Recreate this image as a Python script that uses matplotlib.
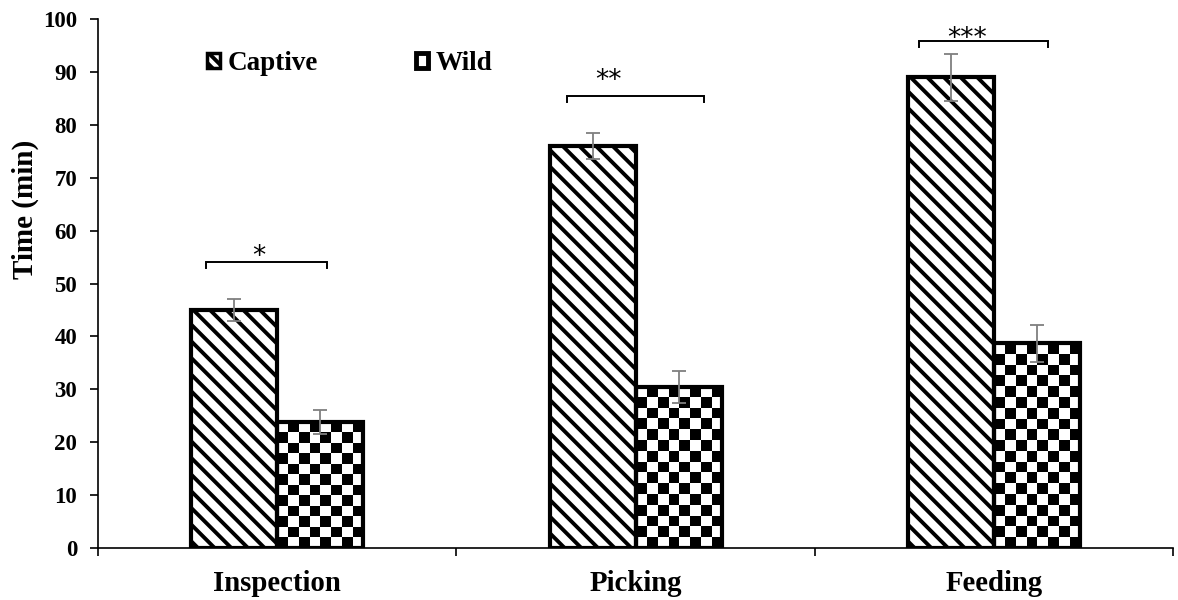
"""
Time spent on inspection, picking and feeding: captive vs wild birds.
"""

import numpy as np
import matplotlib.pyplot as plt
from matplotlib.patches import Patch

categories = ["Inspection", "Picking", "Feeding"]
captive = [45.0, 76.0, 89.0]
wild = [23.8, 30.5, 38.7]
captive_err = [2.1, 2.4, 4.4]
wild_err = [2.3, 3.0, 3.5]
signif = ["*", "**", "***"]
bracket_y = [54.0, 85.4, 95.8]
star_y = [56.7, 90.0, 97.9]
# bracket span as offsets from the category centre
bracket_lo = [-0.20, -0.19, -0.21]
bracket_hi = [0.14, 0.19, 0.15]
star_dx = [-0.02, -0.075, -0.045]

plt.rcParams['font.family'] = ['Liberation Serif', 'DejaVu Serif']
plt.rcParams['font.weight'] = 'bold'
plt.rcParams['hatch.linewidth'] = 2.8

fig = plt.figure(figsize=(11.78, 6), dpi=100)
ax = fig.add_axes([0.0832, 0.0867, 0.9126, 0.8813])

x = np.arange(len(categories))
w = 0.24

bars_c = ax.bar(x - w / 2, captive, w, color="white", edgecolor="black",
                linewidth=3, hatch="\\\\", zorder=2)
bars_w = ax.bar(x + w / 2, wild, w, color="none", edgecolor="black",
                linewidth=3, zorder=2)

ax.set_xlim(-0.5, 2.5)
ax.set_ylim(0, 100)

# checkerboard fill for the wild bars, clipped to each bar
fig.canvas.draw()
for b in bars_w:
    x0, y0 = b.get_x(), b.get_y()
    x1, y1 = x0 + b.get_width(), y0 + b.get_height()
    p0 = ax.transData.transform((x0, y0))
    p1 = ax.transData.transform((x1, y1))
    cell = 10.8
    ncol = max(1, int(round((p1[0] - p0[0]) / cell)))
    nrow = max(1, int(round((p1[1] - p0[1]) / cell)))
    chk = (np.indices((nrow, ncol)).sum(axis=0) % 2).astype(float)
    im = ax.imshow(chk, cmap="gray_r", extent=(x0, x1, y0, y1),
                   interpolation="nearest", aspect="auto", zorder=1.5,
                   vmin=0, vmax=1)
    im.set_clip_path(b)
ax.set_aspect("auto")
ax.set_xlim(-0.5, 2.5)
ax.set_ylim(0, 100)

ax.errorbar(x - w / 2, captive, yerr=captive_err, fmt="none", ecolor="#7f7f7f",
            elinewidth=1.3, capsize=5, capthick=1.3, zorder=3)
ax.errorbar(x + w / 2, wild, yerr=wild_err, fmt="none", ecolor="#7f7f7f",
            elinewidth=1.3, capsize=5, capthick=1.3, zorder=3)

# significance brackets and stars
for i in range(len(categories)):
    xl = x[i] + bracket_lo[i]
    xr = x[i] + bracket_hi[i]
    yb = bracket_y[i]
    ax.plot([xl, xl, xr, xr], [yb - 1.0, yb, yb, yb - 1.0], color="black",
            lw=1.4, solid_joinstyle="miter", zorder=3)
    # asterisk sits high in its glyph box; shift baseline down so it centres
    ax.text((xl + xr) / 2 + star_dx[i], star_y[i] - 2.95, signif[i],
            ha="center", va="baseline", fontsize=19, fontweight="normal",
            family="DejaVu Sans")

for s in ["top", "right"]:
    ax.spines[s].set_visible(False)
ax.spines["left"].set_linewidth(1.2)
ax.spines["bottom"].set_linewidth(1.2)

ax.set_yticks(np.arange(0, 101, 10))
ax.tick_params(axis="y", direction="out", length=6, width=1.2,
               labelsize=16.5, pad=9)
ax.set_xticks([-0.5, 0.5, 1.5, 2.5])
ax.set_xticklabels([])
ax.tick_params(axis="x", which="major", direction="out", length=6, width=1.2)
ax.set_xticks(x, minor=True)
ax.set_xticklabels(categories, minor=True, fontsize=20.7, fontweight="bold")
ax.tick_params(axis="x", which="minor", length=0, pad=16)

ax.set_ylabel("Time (min)", fontsize=21, fontweight="bold")
ax.yaxis.set_label_coords(-0.055, 0.641)

handles = [Patch(facecolor="white", edgecolor="black", hatch="\\\\\\", lw=2.5),
           Patch(facecolor="white", edgecolor="black", lw=3.5)]
ax.legend(handles, ["Captive", "Wild"], ncol=2, frameon=False,
          loc="upper left", bbox_to_anchor=(0.079, 0.986),
          handlelength=0.45, handleheight=0.45, handletextpad=0.3,
          columnspacing=3.6, prop={"size": 19.5, "weight": "bold"})

fig.savefig("out.png", dpi=100)
